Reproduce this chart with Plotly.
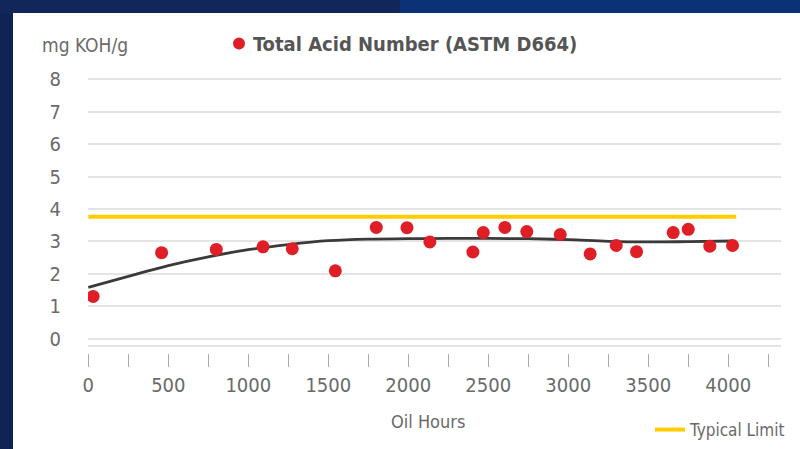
import plotly.graph_objects as go

# ---------------- data ----------------
oil_hours = [30, 458, 800, 1092, 1275, 1544, 1800, 1992, 2135, 2404, 2469,
             2604, 2741, 2950, 3137, 3300, 3427, 3656, 3750, 3885, 4027]
tan_values = [1.30, 2.65, 2.75, 2.83, 2.77, 2.09, 3.43, 3.42, 2.98, 2.67, 3.27,
              3.43, 3.30, 3.21, 2.61, 2.87, 2.68, 3.27, 3.37, 2.85, 2.87]

trend_hours = [0, 250, 500, 750, 1000, 1250, 1500, 1750, 2000, 2250, 2500,
               2750, 3000, 3250, 3500, 3750, 4030]
trend_values = [1.58, 1.92, 2.25, 2.52, 2.74, 2.90, 3.02, 3.07, 3.08, 3.09, 3.09,
                3.08, 3.05, 3.00, 2.98, 2.99, 3.01]

limit_hours = [0, 4050]
limit_values = [3.76, 3.76]

y_ticks = [0, 1, 2, 3, 4, 5, 6, 7, 8]

title_text = "Total Acid Number (ASTM D664)"
unit_text = "mg KOH/g"
x_title = "Oil Hours"
limit_name = "Typical Limit"

# ---------------- layout geometry (pixels) ----------------
W, H = 800, 449
L, R, T, B = 88, 19, 78, 96
PW = W - L - R
PH = H - T - B


def px_x(p):
    return (p - L) / PW


def px_y(p):
    return (H - B - p) / PH


FONT = "DejaVu Sans Condensed, DejaVu Sans, sans-serif"
GRAY = "#6a6a6a"

fig = go.Figure()

fig.add_trace(go.Scatter(
    x=limit_hours, y=limit_values, mode="lines", name=limit_name,
    line=dict(color="#ffcc00", width=4), showlegend=True,
))
fig.add_trace(go.Scatter(
    x=trend_hours, y=trend_values, mode="lines", line_shape="spline",
    line=dict(color="#3a3a3a", width=2.8), showlegend=False, hoverinfo="skip",
))
fig.add_trace(go.Scatter(
    x=oil_hours, y=tan_values, mode="markers", name=title_text,
    marker=dict(color="#e01e25", size=13), showlegend=False,
))
# invisible trace to carry the lower tick axis
fig.add_trace(go.Scatter(
    x=[0, 4000], y=[None, None], xaxis="x2", yaxis="y", showlegend=False,
    hoverinfo="skip", mode="lines",
))

x_range = [-2, 4330]
fig.update_layout(
    width=W, height=H,
    margin=dict(l=L, r=R, t=T, b=B, pad=0, autoexpand=False),
    paper_bgcolor="#0b3276",
    plot_bgcolor="white",
    font=dict(family=FONT, color=GRAY, size=20),
    xaxis=dict(
        range=x_range, showgrid=False, zeroline=False, showticklabels=False,
        ticks="", showline=True, linecolor="#e4e4e4", linewidth=2,
        anchor="y", automargin=False,
    ),
    xaxis2=dict(
        range=x_range, overlaying="x", anchor="free", position=0,
        showgrid=False, zeroline=False, showline=False, automargin=False,
        tick0=0, dtick=500, ticks="outside", ticklen=13, tickwidth=1,
        tickcolor="#aaaaaa",
        minor=dict(ticks="outside", dtick=250, ticklen=13, tickwidth=1,
                   tickcolor="#aaaaaa", showgrid=False),
        tickfont=dict(size=20, color=GRAY, family=FONT),
        ticklabelstandoff=1,
    ),
    yaxis=dict(
        range=[-0.2, 8.04], domain=[8 / PH, 1], tickvals=y_ticks,
        showgrid=True, gridcolor="#e4e4e4", gridwidth=1.5, zeroline=False,
        showline=False, ticks="", automargin=False,
        tickfont=dict(size=20, color=GRAY, family=FONT),
        ticklabelstandoff=26,
    ),
    legend=dict(
        x=px_x(650), y=px_y(430), xanchor="left", yanchor="middle",
        bgcolor="rgba(0,0,0,0)", font=dict(size=17, color=GRAY, family=FONT),
    ),
    shapes=[
        dict(type="rect", xref="paper", yref="paper", layer="below",
             x0=px_x(-5), x1=px_x(400), y0=px_y(13), y1=px_y(-5),
             fillcolor="#11275a", line=dict(width=0)),
        dict(type="rect", xref="paper", yref="paper", layer="below",
             x0=px_x(13), x1=px_x(W + 5), y0=px_y(H + 5), y1=px_y(13),
             fillcolor="white", line=dict(width=0)),
        dict(type="rect", xref="paper", yref="paper", layer="below",
             x0=px_x(-5), x1=px_x(13), y0=px_y(H + 5), y1=px_y(13),
             fillcolor="#0f2354", line=dict(width=0)),
        dict(type="circle", xref="paper", yref="paper",
             x0=px_x(233), x1=px_x(245), y0=px_y(49.5), y1=px_y(37.5),
             fillcolor="#e01e25", line=dict(width=0)),
    ],
    annotations=[
        dict(text=unit_text, xref="paper", yref="paper", x=px_x(85), y=px_y(45),
             xanchor="center", yanchor="middle", showarrow=False,
             font=dict(size=19, color=GRAY, family=FONT)),
        dict(text="<b>" + title_text + "</b>", xref="paper", yref="paper",
             x=px_x(251), y=px_y(44), xanchor="left", yanchor="middle",
             showarrow=False, font=dict(size=20, color="#555555", family=FONT)),
        dict(text=x_title, xref="paper", yref="paper", x=px_x(428), y=px_y(421),
             xanchor="center", yanchor="middle", showarrow=False,
             font=dict(size=18, color=GRAY, family=FONT)),
    ],
)

fig.write_html("out.html", config={"displayModeBar": False},
               post_script="document.body.style.margin='0';")
